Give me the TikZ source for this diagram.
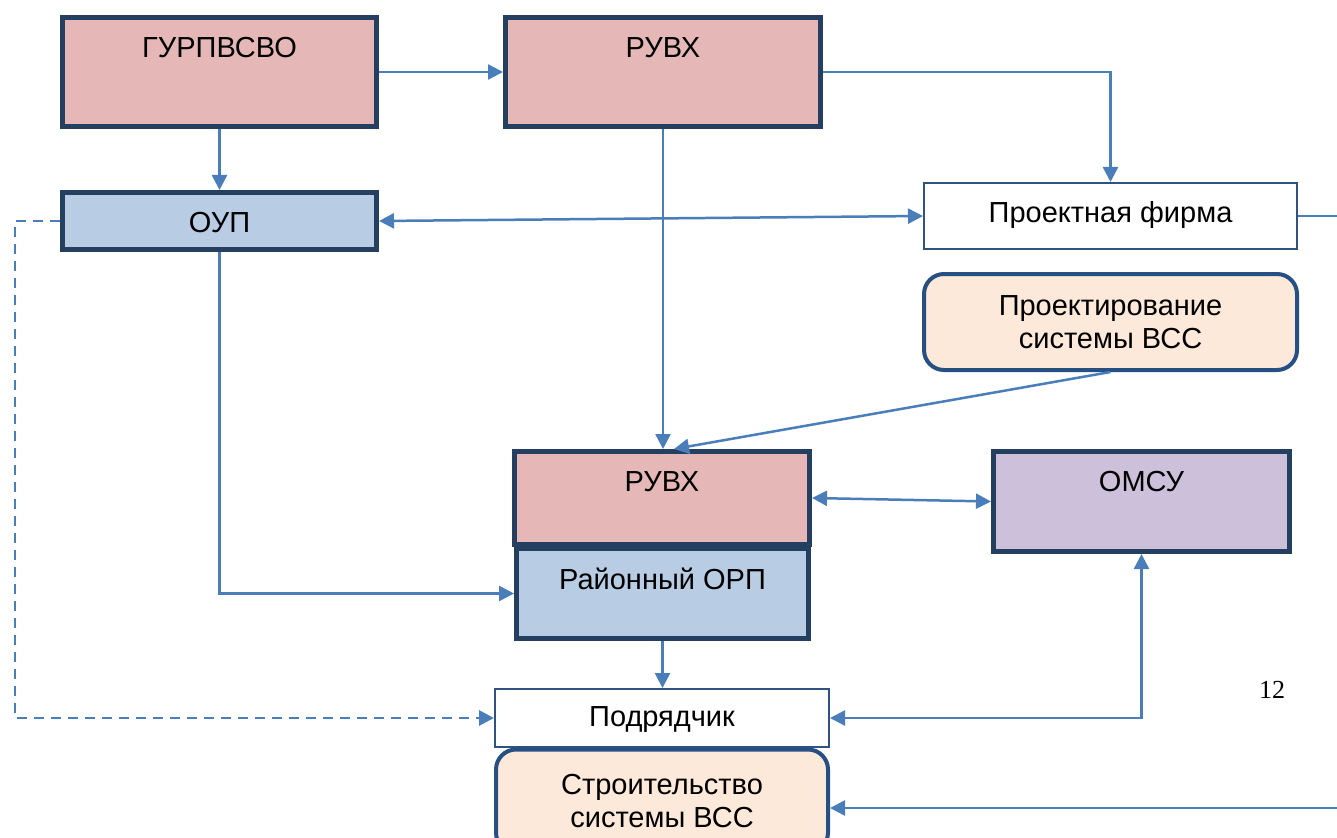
\documentclass[tikz,border=0pt]{standalone}
\usepackage{fontspec}
\setmainfont{Liberation Sans}
\newfontfamily\serifnum{Liberation Serif}
\usetikzlibrary{arrows.meta,calc}
\definecolor{navyB}{HTML}{243F60}
\definecolor{roundB}{HTML}{264F82}
\definecolor{thinB}{HTML}{2F5283}
\definecolor{lineB}{HTML}{4A7EBB}
\definecolor{pinkF}{HTML}{E5B8B7}
\definecolor{blueF}{HTML}{B8CCE4}
\definecolor{purpF}{HTML}{CCC0DA}
\definecolor{peachF}{HTML}{FDE9D9}
\tikzset{
  txt/.style={font=\fontsize{29}{33}\selectfont},
  hdr/.style={txt, draw=navyB, line width=5pt, inner sep=0pt},
  thinbox/.style={txt, draw=thinB, line width=2pt, fill=white, inner sep=0pt},
  rbox/.style={txt, draw=roundB, line width=4pt, fill=peachF, rounded corners=20pt, inner sep=0pt, align=center},
  conn/.style={draw=lineB, line width=2.5pt},
  >={Triangle[length=15pt,width=15pt]}
}
\begin{document}
\begin{tikzpicture}[x=1pt,y=-1pt]
\useasboundingbox (0,0) rectangle (1337,837);
\clip (0,0) rectangle (1337,837);
\fill[white] (0,0) rectangle (1337,837);

% boxes
\node[hdr, fill=pinkF, minimum width=314pt, text height=40pt, text depth=69pt] (g) at (219.5,72) {ГУРПВСВО};
\node[hdr, fill=pinkF, minimum width=315pt, text height=40pt, text depth=69pt] (r1) at (663,72) {РУВХ};
\node[hdr, fill=blueF, minimum width=314pt, text height=40pt, text depth=17pt] (oup) at (219.5,221) {ОУП};
\node[thinbox, minimum width=373pt, text height=39pt, text depth=27pt] (pf) at (1110.5,216) {Проектная фирма};
\node[rbox, minimum width=373pt, minimum height=96pt] (proj) at (1110.5,322) {Проектирование\\системы ВСС};
\node[hdr, fill=blueF, minimum width=292pt, text height=40.5pt, text depth=49.5pt] (orp) at (662.5,593.5) {Районный ОРП};
\node[hdr, fill=pinkF, minimum width=295pt, text height=40pt, text depth=53pt] (r2) at (662,498) {РУВХ};
\node[hdr, fill=purpF, minimum width=296pt, text height=40pt, text depth=60pt] (omsu) at (1141.5,501.5) {ОМСУ};
\node[thinbox, minimum width=334pt, text height=37pt, text depth=21pt] (podr) at (662,718) {Подрядчик};
\node[rbox, minimum width=332pt, minimum height=103pt] (stroi) at (662,801) {Строительство\\системы ВСС};
\node[font=\serifnum\fontsize{26}{30}\selectfont, inner sep=0pt] (pg) at (1272,690) {12};

% free ends
\coordinate (pfout) at (1337,216);
\coordinate (stin) at (1337,808);

% connectors
\draw[conn,->] (g.east) -- (r1.west);
\draw[conn,->] (g.south) -- (oup.north);
\draw[conn,->] (r1.east) -| (pf.north);
\draw[conn,<->] (oup.east) -- (pf.west);
\draw[conn,->] (r1.south) -- (r1.south |- r2.north);
\draw[conn,->] (proj.south) -- ([xshift=12pt]r2.north);
\draw[conn,->] (oup.south) |- (orp.west);
\draw[conn,<->] (r2.east) -- (omsu.west);
\draw[conn,->] (orp.south) -- (orp.south |- podr.north);
\draw[conn,<->] (podr.east) -| (omsu.south);
\draw[conn,->,line width=2.8pt,dash pattern=on 10pt off 7pt] (oup.west) -- ++(-45,0) |- (podr.west);
\draw[conn] (pf.east) -- (pfout);
\draw[conn,->] (stin) -- (stin -| stroi.east);
\end{tikzpicture}
\end{document}
